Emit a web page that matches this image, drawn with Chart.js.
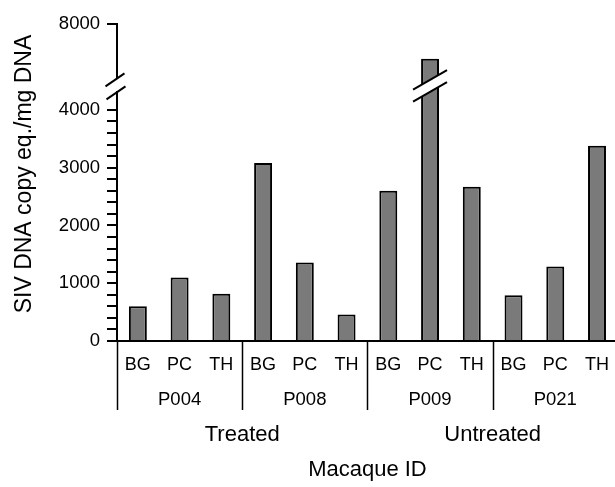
<!DOCTYPE html>
<html>
<head>
<meta charset="utf-8">
<title>SIV DNA by macaque</title>
<script src="https://cdn.jsdelivr.net/npm/chart.js@4.4.1/dist/chart.umd.min.js"></script>
<style>
  html, body { margin: 0; padding: 0; background: #fff; overflow: hidden; }
  #wrap { width: 615px; height: 487px; overflow: hidden; }
  canvas { display: block; }
</style>
</head>
<body>
<div id="wrap">
  <canvas id="dnaChart" width="622" height="487"></canvas>
</div>
<script>
// data
const samples = ['BG', 'PC', 'TH'];
const macaques = ['P004', 'P008', 'P009', 'P021'];
const treatments = ['Treated', 'Untreated'];
const macaquesPerTreatment = [2, 2];
const copies = [600, 1100, 820, 3080, 1360, 460, 2600, 7400, 2670, 790, 1290, 3380];
const yTicks = [0, 1000, 2000, 3000, 4000, 8000];
const yMinorStep = 200;
const axisBreak = [4330, 7050]; // values hidden by the break

const ink = '#000';
const fontFamily = "'Liberation Sans', Arial, Helvetica, sans-serif";
const breakGap = 12; // px

Chart.defaults.font.family = fontFamily;
Chart.defaults.color = ink;

// linear scale with a gap between axisBreak[0] and axisBreak[1]
class BrokenLinearScale extends Chart.LinearScale {
  pxPerUnit() {
    const [lo, hi] = axisBreak;
    return (this.height - breakGap) / ((lo - this.min) + (this.max - hi));
  }
  getPixelForValue(value) {
    const [lo, hi] = axisBreak;
    const k = this.pxPerUnit();
    let px;
    if (value <= lo) px = (value - this.min) * k;
    else if (value >= hi) px = (lo - this.min) * k + breakGap + (value - hi) * k;
    else px = (lo - this.min) * k + (value - lo) / (hi - lo) * breakGap;
    return this.bottom - px;
  }
  getValueForPixel(pixel) {
    const [lo, hi] = axisBreak;
    const k = this.pxPerUnit();
    const px = this.bottom - pixel;
    const loPx = (lo - this.min) * k;
    if (px <= loPx) return this.min + px / k;
    if (px >= loPx + breakGap) return hi + (px - loPx - breakGap) / k;
    return lo + (px - loPx) / breakGap * (hi - lo);
  }
}
BrokenLinearScale.id = 'brokenLinear';
BrokenLinearScale.defaults = Chart.LinearScale.defaults;
Chart.register(BrokenLinearScale);

// one bar label per sample, repeated for every macaque
const barLabels = macaques.flatMap(() => samples);

// ticks: majors from yTicks, minors every yMinorStep below the break
const tickValues = [];
for (let i = 0; i < yTicks.length; i++) {
  tickValues.push(yTicks[i]);
  const next = yTicks[i + 1];
  if (next !== undefined && next <= axisBreak[0]) {
    for (let v = yTicks[i] + yMinorStep; v < next; v += yMinorStep) tickValues.push(v);
  }
}

function drawSlash(ctx, x, y, halfW, halfH) {
  ctx.beginPath();
  ctx.moveTo(x - halfW, y + halfH);
  ctx.lineTo(x + halfW, y - halfH);
  ctx.stroke();
}

const annotations = {
  id: 'annotations',
  afterDraw(chart) {
    const ctx = chart.ctx;
    const x = chart.scales.x;
    const y = chart.scales.y;
    const area = chart.chartArea;
    const yLo = y.getPixelForValue(axisBreak[0]);
    const yHi = y.getPixelForValue(axisBreak[1]);

    ctx.save();
    ctx.strokeStyle = ink;
    ctx.lineCap = 'butt';

    // broken y axis
    ctx.lineWidth = 2;
    ctx.beginPath();
    ctx.moveTo(area.left, y.getPixelForValue(0) + 1);
    ctx.lineTo(area.left, yLo);
    ctx.moveTo(area.left, yHi);
    ctx.lineTo(area.left, y.getPixelForValue(y.max) - 1);
    ctx.stroke();
    drawSlash(ctx, area.left - 2, yHi + 1, 9.5, 6.5);
    drawSlash(ctx, area.left - 1, yLo + 2, 9.5, 6.5);

    // break through bars that go past the gap
    const meta = chart.getDatasetMeta(0);
    meta.data.forEach((bar, i) => {
      if (copies[i] <= axisBreak[1]) return;
      const half = bar.width / 2 + 8;
      const dy = half * 0.58;
      ctx.fillStyle = '#fff';
      ctx.beginPath();
      ctx.moveTo(bar.x - half, yLo + 1 + dy);
      ctx.lineTo(bar.x + half, yLo + 1 - dy);
      ctx.lineTo(bar.x + half, yHi + 1 - dy);
      ctx.lineTo(bar.x - half, yHi + 1 + dy);
      ctx.closePath();
      ctx.fill();
      ctx.lineWidth = 2;
      drawSlash(ctx, bar.x, yHi + 1, half, dy);
      drawSlash(ctx, bar.x, yLo + 1, half, dy);
    });

    // macaque separators and labels
    const step = x.getPixelForValue(1) - x.getPixelForValue(0);
    const edge = (i) => x.getPixelForValue(i) - step / 2;
    ctx.lineWidth = 1.5;
    ctx.beginPath();
    for (let m = 0; m <= macaques.length; m++) {
      const px = Math.round(edge(m * samples.length)) + 0.5;
      ctx.moveTo(px, area.bottom);
      ctx.lineTo(px, area.bottom + 69);
    }
    ctx.stroke();

    ctx.fillStyle = ink;
    ctx.textAlign = 'center';
    ctx.textBaseline = 'alphabetic';
    ctx.font = '18.5px ' + fontFamily;
    macaques.forEach((name, m) => {
      const cx = (edge(m * samples.length) + edge((m + 1) * samples.length)) / 2;
      ctx.fillText(name, cx, area.bottom + 64);
    });

    // treatment groups
    ctx.font = '22px ' + fontFamily;
    let start = 0;
    treatments.forEach((name, t) => {
      const end = start + macaquesPerTreatment[t];
      const cx = (edge(start * samples.length) + edge(end * samples.length)) / 2;
      ctx.fillText(name, cx, area.bottom + 100);
      start = end;
    });

    // y axis title
    ctx.font = '23px ' + fontFamily;
    ctx.translate(31, 174);
    ctx.rotate(-Math.PI / 2);
    ctx.fillText('SIV DNA copy eq./mg DNA', 0, 0);
    ctx.restore();
  }
};

new Chart(document.getElementById('dnaChart'), {
  type: 'bar',
  data: {
    labels: barLabels,
    datasets: [{
      data: copies,
      backgroundColor: '#7a7a7a',
      borderColor: ink,
      borderWidth: 2,
      barPercentage: 0.43,
      categoryPercentage: 1
    }]
  },
  options: {
    responsive: false,
    animation: false,
    layout: { padding: { top: 24, right: 0, left: 0, bottom: 0 } },
    plugins: {
      legend: { display: false },
      tooltip: { enabled: false }
    },
    scales: {
      x: {
        type: 'category',
        grid: { display: false, drawTicks: false },
        border: { display: true, color: ink, width: 2 },
        ticks: { font: { size: 18 }, padding: 13, maxRotation: 0, autoSkip: false },
        title: {
          display: true,
          text: 'Macaque ID',
          font: { size: 22 },
          padding: { top: 0, bottom: 4 }
        },
        afterFit(scale) { scale.height = 146; }
      },
      y: {
        type: 'brokenLinear',
        min: 0,
        max: yTicks[yTicks.length - 1],
        border: { display: false },
        grid: {
          drawOnChartArea: false,
          drawTicks: true,
          tickLength: 10,
          color: ink,
          lineWidth: 2
        },
        ticks: {
          font: { size: 18.5 },
          padding: 7,
          autoSkip: false,
          callback: (v) => yTicks.includes(v) ? String(v) : ''
        },
        afterBuildTicks(scale) {
          scale.ticks = tickValues.map(v => ({ value: v }));
        },
        afterFit(scale) { scale.width = 117; }
      }
    }
  },
  plugins: [annotations]
});
</script>
</body>
</html>
